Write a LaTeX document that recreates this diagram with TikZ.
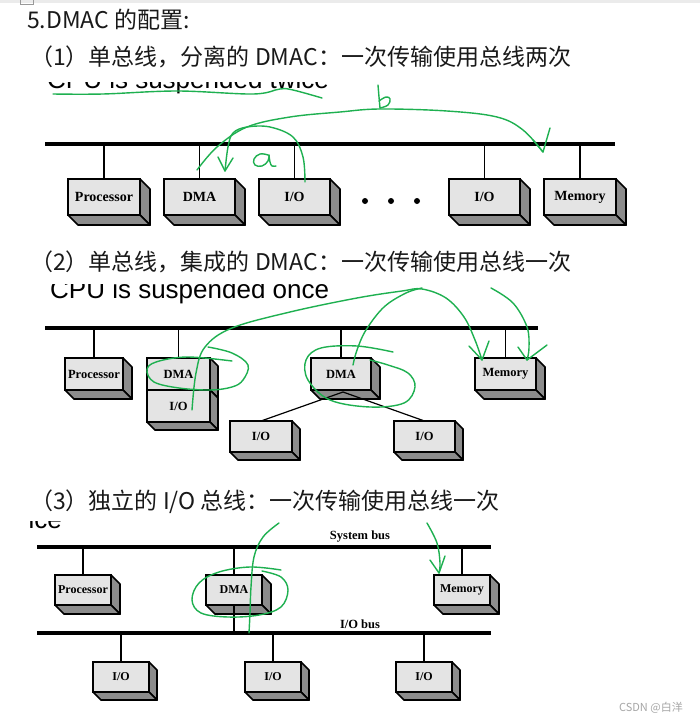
\documentclass[tikz,border=0pt]{standalone}
\usepackage{fontspec}
\usetikzlibrary{calc}
\newfontfamily\cjk{Noto Sans CJK SC}
\newfontfamily\tnr{Liberation Serif}
\newfontfamily\arial{Liberation Sans}
\definecolor{inkgreen}{RGB}{30,176,80}
\definecolor{boxfill}{RGB}{228,228,228}
\definecolor{sidefill}{RGB}{140,140,140}
\definecolor{headcol}{RGB}{25,25,25}
\newcommand{\tdbox}[8]{% name, x1, y1, w, h, depth, fontsize, text
  \node[box, minimum width=#4pt, minimum height=#5pt, anchor=north west,
        font=\tnr\bfseries\fontsize{#7}{#7}\selectfont] (#1) at (#2,#3) {#8};
  \filldraw[face] (#1.north east) -- ++(#6,#6) -- ($(#1.south east)+(#6,#6)$) -- (#1.south east) -- cycle;
  \filldraw[face] (#1.south west) -- ++(#6,#6) -- ($(#1.south east)+(#6,#6)$) -- (#1.south east) -- cycle;
}
\begin{document}
\begin{tikzpicture}[x=1pt,y=-1pt,
  box/.style={draw, line width=1.7pt, fill=boxfill, inner sep=0pt, outer sep=0pt},
  face/.style={draw, line width=1.7pt, fill=sidefill, line join=round},
  bus/.style={line width=4pt},
  conn/.style={line width=1.2pt},
  ink/.style={draw=inkgreen, line width=1.4pt, line cap=round, line join=round},
  head/.style={anchor=base west, inner sep=0pt, text=headcol, font=\cjk\fontsize{23}{27}\selectfont},
  cut/.style={inner sep=0pt, font=\arial\fontsize{26}{30}\selectfont},
  dotnode/.style={circle, fill=black, inner sep=0pt, minimum size=6pt},
  buslabel/.style={inner sep=0pt, font=\tnr\bfseries\fontsize{12.5}{13}\selectfont}]
\useasboundingbox (0,0) rectangle (700,720);
\fill[white] (0,0) rectangle (700,720);
% top UI strip
\fill[black!8] (0,0) rectangle (700,3);
\draw[black!40, line width=0.6pt] (20,-1) rectangle (33,4);

% headings
\node[head] (t0) at (27,28) {5.DMAC 的配置:};
\node[head] (t1) at (30,65) {（1）单总线，分离的 DMAC：一次传输使用总线两次};
\node[head] (t2) at (30,270) {（2）单总线，集成的 DMAC：一次传输使用总线一次};
\node[head] (t3) at (30,509) {（3）独立的 I/O 总线：一次传输使用总线一次};

% clipped captions
\begin{scope}
\clip (0,82) rectangle (700,100);
\node[cut, anchor=base west] (c1) at (47,88) {CPU is suspended twice};
\end{scope}
\begin{scope}
\clip (0,284) rectangle (700,310);
\node[cut, anchor=base west] (c2) at (50,298) {CPU is suspended once};
\end{scope}
\begin{scope}
\clip (0,521) rectangle (700,535);
\node[cut, anchor=base east] (c3) at (62,528) {ice};
\end{scope}

% ===== Section 1 =====
\coordinate (b1w) at (45,144);
\coordinate (b1e) at (615,144);
\draw[bus] (b1w) -- (b1e);
\tdbox{p1}{68}{179}{72}{36}{10}{14}{Processor}
\tdbox{d1}{164}{179}{71}{36}{10}{14}{DMA}
\tdbox{ioa}{259}{179}{71}{36}{10}{14}{I/O}
\tdbox{iob}{449}{179}{71}{36}{10}{14}{I/O}
\tdbox{m1}{544}{179}{72}{36}{10}{14}{Memory}
\foreach \n in {p1,d1,ioa,iob,m1} \draw[conn] (\n.north) -- (\n.north |- b1w);
\node[dotnode] (dot1) at (365,201) {};
\node[dotnode] (dot2) at (391,201) {};
\node[dotnode] (dot3) at (417,201) {};

% ===== Section 2 =====
\coordinate (b2w) at (45,328);
\coordinate (b2e) at (538,328);
\draw[bus, line width=3.6pt] (b2w) -- (b2e);
\tdbox{p2}{65}{358}{58}{32}{9}{12.5}{Processor}
\tdbox{d2}{147}{358}{63}{32}{8}{12.5}{DMA}
\tdbox{io2}{147}{390}{63}{32}{8}{12.5}{I/O}
\tdbox{d2m}{311}{358}{60}{32}{9}{12.5}{DMA}
\tdbox{m2}{475}{358}{61}{32}{9}{12.5}{Memory}
\tdbox{io2a}{230}{421}{62}{31}{8}{12.5}{I/O}
\tdbox{io2b}{394}{421}{61}{31}{8}{12.5}{I/O}
\foreach \n in {p2,d2,d2m,m2} \draw[conn] (\n.north) -- (\n.north |- b2w);
\draw[conn] ($(d2m.south)+(2,2)$) -- (io2a.north);
\draw[conn] ($(d2m.south)+(2,2)$) -- (io2b.north);

% ===== Section 3 =====
\coordinate (sbw) at (37,547);
\coordinate (sbe) at (491,547);
\coordinate (ibw) at (37,633);
\coordinate (ibe) at (491,633);
\draw[bus, line width=3.6pt] (sbw) -- (sbe);
\draw[bus, line width=3.6pt] (ibw) -- (ibe);
\node[buslabel] (sblab) at (360,537) {System bus};
\node[buslabel] (iblab) at (360,624) {I/O bus};
\tdbox{p3}{55}{575}{56}{30}{9}{12}{Processor}
\tdbox{d3}{206}{575}{56}{30}{9}{12}{DMA}
\tdbox{m3}{434}{575}{56}{30}{9}{12}{Memory}
\tdbox{io3a}{93}{662}{56}{30}{8}{12}{I/O}
\tdbox{io3b}{245}{662}{56}{30}{8}{12}{I/O}
\tdbox{io3c}{396}{662}{56}{30}{8}{12}{I/O}
\foreach \n in {p3,d3,m3} \draw[conn] (\n.north) -- (\n.north |- sbw);
\draw[conn] (d3.south) -- (d3.south |- ibw);
\foreach \n in {io3a,io3b,io3c} \draw[conn] (\n.north) -- (\n.north |- ibw);

% ===== green ink =====
% section 1
\draw[ink] plot[smooth, tension=0.6] coordinates {(53,94) (103,94) (177,91) (253,94) (280,89) (293,90) (322,98)};
\draw[ink] plot[smooth, tension=0.6] coordinates {(197,170) (217,147) (247,127) (290,117) (340,112) (380,109) (447,111) (497,117) (523,130) (543,152)};
\draw[ink] (533,140) -- (543,152) -- (550,128);
\draw[ink] plot[smooth, tension=0.6] coordinates {(305,182) (303,157) (293,137) (270,127) (247,127) (233,133) (228,147) (225,171)};
\draw[ink] (218,157) -- (225,171) -- (233,158);
% letter b
\draw[ink] plot[smooth, tension=0.5] coordinates {(378,85) (379,97) (380,108)};
\draw[ink] plot[smooth, tension=0.7] coordinates {(379,101) (386,97) (390,99) (388,105) (380,108)};
% letter a
\draw[ink] plot[smooth, tension=0.7] coordinates {(268,155) (260,154) (254,159) (255,165) (262,166) (268,161) (269,155)};
\draw[ink] plot[smooth, tension=0.6] coordinates {(269,155) (270,162) (272,166) (276,166)};
% section 2
\draw[ink] plot[smooth, tension=0.6] coordinates {(192,410) (196,373) (205,347) (232,328) (290,312) (357,298) (402,291) (422,289) (446,298) (464,317) (475,340) (482,360)};
\draw[ink] (469,346) -- (482,360) -- (489,341);
\draw[ink] plot[smooth, tension=0.6] coordinates {(353,365) (357,350) (366,330) (384,307) (406,293) (422,288)};
\draw[ink] plot[smooth, tension=0.6] coordinates {(491,288) (513,303) (527,327) (529,348) (527,360)};
\draw[ink] (518,347) -- (527,360) -- (547,345);
\draw[ink] plot[smooth, tension=0.6] coordinates {(208,347) (232,353) (248,365) (243,380) (232,387) (210,390) (179,388) (154,382) (147,370) (156,362) (187,357) (232,361)};
\draw[ink] plot[smooth, tension=0.6] coordinates {(393,352) (357,346) (321,348) (306,360) (308,380) (330,400) (370,407) (404,403) (415,387) (408,373) (388,365) (370,360)};
% section 3
\draw[ink] plot[smooth, tension=0.6] coordinates {(279,523) (263,537) (254,557) (251,587) (250,613) (249,633)};
\draw[ink] plot[smooth, tension=0.6] coordinates {(281,570) (250,567) (219,572) (199,583) (192,600) (201,613) (228,617) (259,615) (281,607) (288,590) (281,577) (262,571)};
\draw[ink] plot[smooth, tension=0.6] coordinates {(427,523) (437,543) (440,563) (439,573)};
\draw[ink] (430,560) -- (439,573) -- (445,556);

% watermark
\node[anchor=base east, inner sep=0pt, text=black!35, font=\cjk\fontsize{11}{12}\selectfont] (wm) at (683,711) {CSDN @白洋};
\end{tikzpicture}
\end{document}
